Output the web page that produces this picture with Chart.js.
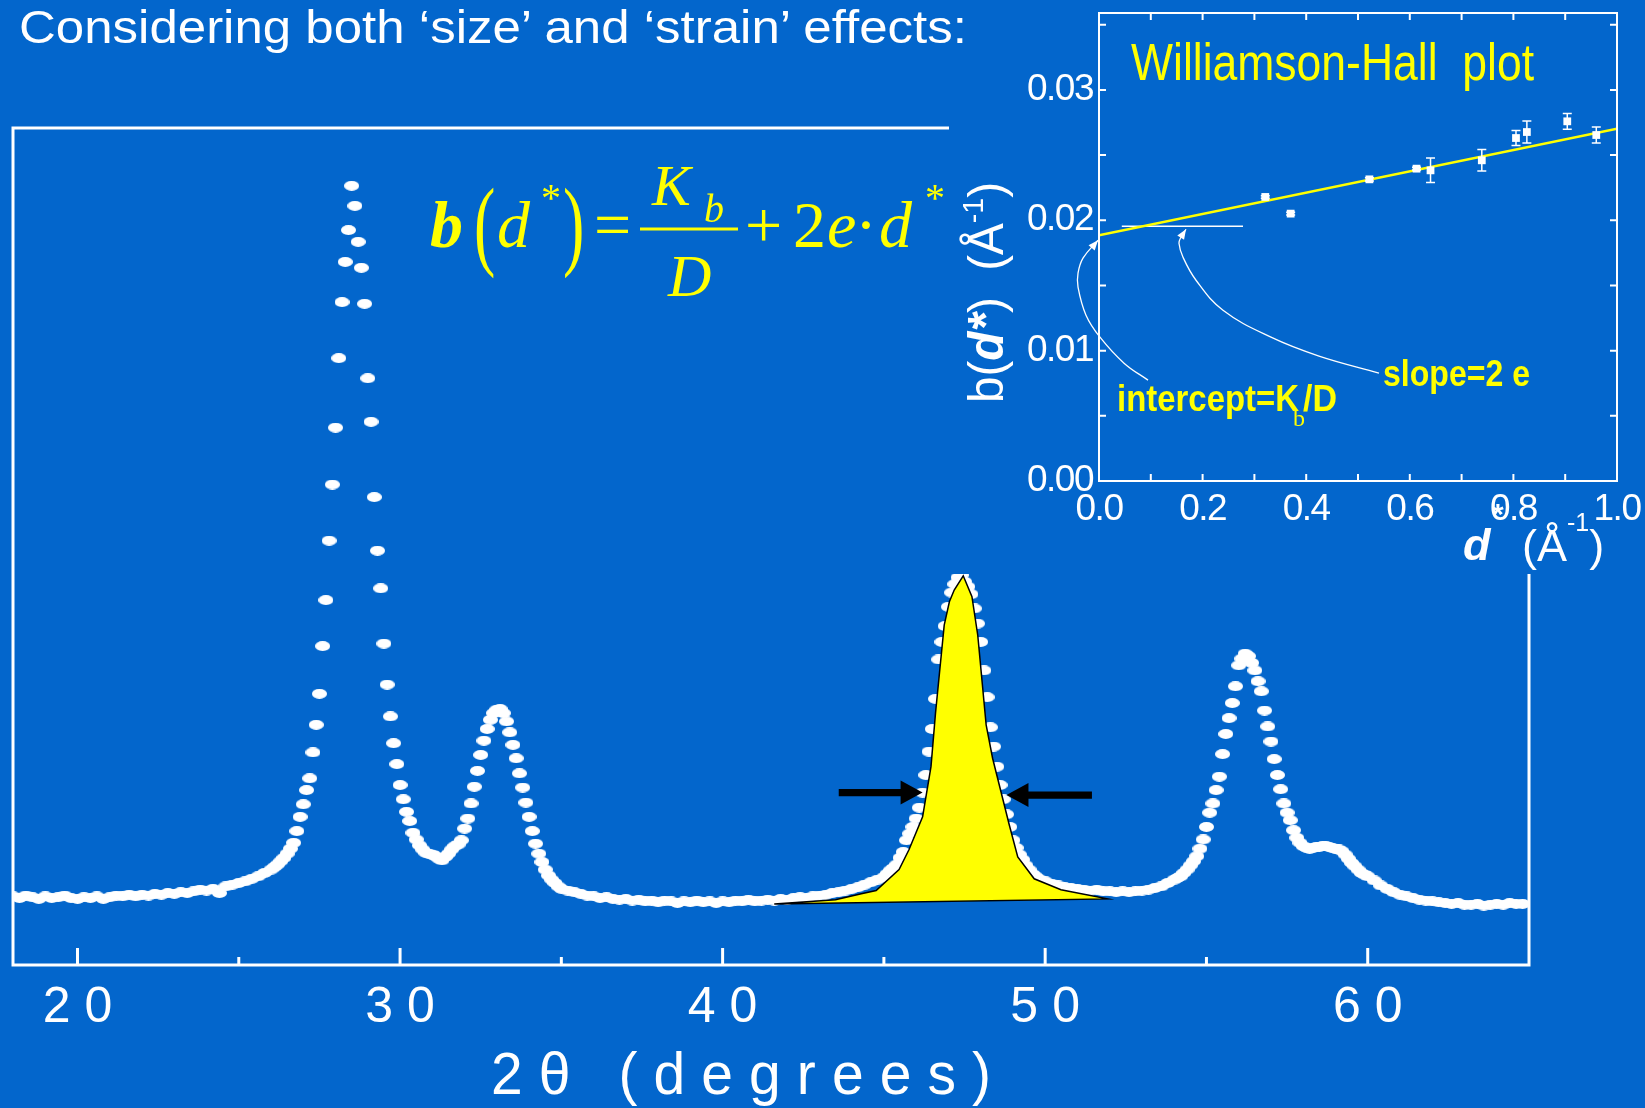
<!DOCTYPE html>
<html>
<head>
<meta charset="utf-8">
<script src="https://cdn.jsdelivr.net/npm/chart.js@4.4.1/dist/chart.umd.min.js"></script>
<style>
  html, body { margin: 0; padding: 0; width: 1645px; height: 1108px; overflow: hidden; background: #0366CC; }
  #main { position: absolute; left: 0; top: 0; width: 1645px; height: 1108px; }
  #inset { position: absolute; left: 949px; top: 0; width: 696px; height: 574px; }
  #title { position: absolute; left: 19px; top: 4px; z-index: 3; color: #FFFFFF; white-space: nowrap;
           font-family: "Liberation Sans", Arial, sans-serif; font-size: 46px; line-height: 46px;
           transform-origin: 0 0; }
</style>
</head>
<body>
<canvas id="main" width="1645" height="1108"></canvas>
<canvas id="inset" width="696" height="574"></canvas>
<div id="title">Considering both ‘size’ and ‘strain’ effects:</div>
<script>
// ---------------- DATA ----------------
// XRD pattern: 2-theta (degrees)
const xrdAngles = [
  18.0,18.2,18.4,18.6,18.8,19.0,19.2,19.4,19.6,19.8,20.0,20.2,20.4,20.6,20.8,21.0,21.2,21.4,21.6,21.8,
  22.0,22.2,22.4,22.6,22.8,23.0,23.2,23.4,23.6,23.8,24.0,24.2,24.4,24.6,24.8,25.0,25.2,25.4,25.6,25.8,
  26.0,26.1,26.2,26.3,26.4,26.5,26.6,
  26.7,26.8,26.9,27.0,27.1,27.2,27.3,27.4,27.5,27.6,27.7,27.8,27.9,28.0,28.1,28.2,28.3,28.4,28.5,28.6,
  28.7,28.8,28.9,29.0,29.1,29.2,29.3,29.4,29.5,29.6,29.7,29.8,29.9,30.0,30.1,30.2,30.3,30.4,
  30.5,30.6,30.7,30.8,30.9,31.0,31.1,31.2,31.3,31.4,31.5,31.6,31.7,31.8,31.9,
  32.0,32.1,32.2,32.3,32.4,32.5,32.6,32.7,32.8,32.9,33.0,33.1,33.2,33.3,33.4,33.5,33.6,33.7,33.8,33.9,
  34.0,34.1,34.2,34.3,34.4,34.5,34.6,34.7,34.8,34.9,35.0,
  35.2,35.4,35.6,35.8,36.0,36.2,36.4,36.6,36.8,37.0,37.2,37.4,37.6,37.8,38.0,38.2,38.4,38.6,38.8,39.0,
  39.2,39.4,39.6,39.8,40.0,40.2,40.4,40.6,40.8,41.0,41.2,41.4,41.6,41.8,42.0,42.2,42.4,42.6,42.8,43.0,
  43.2,43.4,43.6,43.8,44.0,44.2,44.4,44.6,44.8,
  45.0,45.1,45.2,45.3,45.4,45.5,45.6,45.7,45.8,45.9,46.0,46.1,46.2,46.3,46.4,46.5,46.6,46.7,46.8,46.9,
  47.0,47.1,47.2,47.3,47.4,47.5,47.6,47.7,47.8,47.9,48.0,48.1,48.2,48.3,48.4,48.5,48.6,48.7,48.8,48.9,
  49.0,49.1,49.2,49.3,49.4,49.5,49.6,49.7,49.8,
  50.0,50.2,50.4,50.6,50.8,51.0,51.2,51.4,51.6,51.8,52.0,52.2,52.4,52.6,52.8,53.0,53.2,53.4,53.6,53.8,
  54.0,54.1,54.2,54.3,54.4,54.5,54.6,54.7,54.8,54.9,55.0,55.1,55.2,55.3,55.4,55.5,55.6,55.7,55.8,55.9,
  56.0,56.1,56.2,56.3,56.4,56.5,56.6,56.7,56.8,56.9,57.0,57.1,57.2,57.3,57.4,57.5,57.6,57.7,57.8,57.9,
  58.0,58.1,58.2,58.3,58.4,58.5,58.6,58.7,58.8,58.9,59.0,59.1,59.2,59.3,59.4,59.5,59.6,59.7,59.8,59.9,
  60.0,
  60.2,60.4,60.6,60.8,61.0,61.2,61.4,61.6,61.8,62.0,62.2,62.4,62.6,62.8,63.0,63.2,63.4,63.6,63.8,64.0,
  64.2,64.4,64.6,64.8
];
// XRD intensity (arbitrary units, 0-1000 = bottom-top of plot frame)
const xrdIntensity = [
  82,80,83,81,79,82,80,81,83,80,79,81,80,82,79,81,83,82,84,82,
  84,83,85,84,86,85,87,86,88,90,89,91,86,94,96,98,100,103,106,110,
  114,117,120,124,128,133,139,
  146,160,177,192,209,223,254,287,324,381,436,507,574,642,725,792,840,878,931,907,
  864,833,790,701,649,559,495,450,384,335,297,265,240,215,198,183,172,158,
  150,143,138,134,133,132,130,127,125,129,133,138,142,144,149,
  163,175,193,213,232,251,268,282,293,301,305,306,301,291,278,263,247,229,212,194,
  177,160,145,133,123,114,107,102,98,94,91,
  89,87,85,83,82,80,81,79,78,79,77,78,76,77,75,77,76,74,76,75,
  77,75,76,74,76,75,77,76,78,76,77,78,77,79,78,80,81,80,82,83,
  84,86,87,89,91,93,96,99,102,
  105,109,113,116,120,128,135,149,157,165,175,188,206,227,255,282,318,365,386,405,
  428,445,455,463,466,458,452,443,426,408,386,352,320,284,261,237,215,198,180,165,
  149,140,132,126,119,114,109,106,103,
  100,97,95,93,92,91,90,89,90,88,88,87,88,87,88,89,90,92,94,98,
  102,104,106,110,114,119,124,130,139,150,165,182,193,209,225,252,276,295,313,333,
  358,366,372,369,361,352,339,327,304,285,267,246,227,210,193,182,173,161,152,146,
  142,140,139,140,141,141,142,142,141,140,139,138,136,132,127,122,118,114,110,108,
  106,
  101,95,91,87,84,82,80,78,77,76,75,74,73,74,72,72,73,71,72,73,
  72,74,73,73
];
// Highlighted (yellow) peak outline
const peakFillAngles  = [41.6, 43.5, 44.3, 44.76, 45.47, 45.78, 46.2, 46.46, 46.6, 46.87, 47.03, 47.18, 47.46, 47.73, 47.91, 48.17, 48.37, 48.89, 49.15, 49.66, 50.49, 51.93, 41.6];
const peakFillHeights = [73, 78, 85, 89, 114, 138, 177, 237, 301, 406, 434, 448, 465, 440, 394, 287, 247, 167, 129, 103, 90, 79, 73];
// FWHM arrows (tail angle, tip angle, level)
const fwhmTail  = [43.6, 51.45];
const fwhmTip   = [46.2, 48.8];
const fwhmLevel = [206, 203];
// main x-axis tick labels
const mainTickLabels = ['20', '30', '40', '50', '60'];

// Williamson-Hall inset
const whDstar   = [0.321, 0.370, 0.522, 0.613, 0.640, 0.739, 0.805, 0.826, 0.904, 0.960];
const whBreadth = [0.02179, 0.02051, 0.02314, 0.02396, 0.02383, 0.02460, 0.02631, 0.02677, 0.02759, 0.02654];
const whError   = [0.00010, 0.00010, 0.00012, 0.00010, 0.00094, 0.00082, 0.00057, 0.00084, 0.00060, 0.00061];
const fitDstar   = [0, 1];
const fitBreadth = [0.01885, 0.02703];
const guideDstar   = [0.044, 0.278];
const guideBreadth = [0.01954, 0.01954];
const interceptCurveD = [0.0946, 0.0483, 0.0019, -0.0251, -0.0405, -0.0405, -0.0309, -0.0019];
const interceptCurveB = [0.00774, 0.00904, 0.01103, 0.01272, 0.01487, 0.01594, 0.01709, 0.01847];
const slopeCurveD = [0.5405, 0.4247, 0.3320, 0.2394, 0.1873, 0.1622, 0.1544, 0.1583, 0.1680];
const slopeCurveB = [0.00828, 0.00958, 0.01103, 0.01310, 0.01540, 0.01716, 0.01824, 0.01870, 0.01931];
const insetXLabels = ['0.0', '0.2', '0.4', '0.6', '0.8', '1.0'];
const insetYLabels = ['0.00', '0.01', '0.02', '0.03'];

// ---------------- STYLE HELPERS ----------------
const BLUE = '#0366CC', WHITE = '#FFFFFF', YELLOW = '#FFFF00';
const SANS = '"Liberation Sans", Arial, sans-serif';
const SERIF = '"Liberation Serif", "Times New Roman", serif';
Chart.defaults.font.family = SANS;
Chart.defaults.color = WHITE;

// fit the HTML page title to its width
(function () {
  const el = document.getElementById('title');
  const w = el.scrollWidth;
  el.style.transform = 'scaleX(' + (948 / w).toFixed(4) + ')';
})();

function zip(xs, ys) { return xs.map((x, i) => ({ x: x, y: ys[i] })); }

function makeDot(w, h) {
  const c = document.createElement('canvas');
  c.width = w; c.height = h;
  const g = c.getContext('2d');
  g.fillStyle = WHITE;
  g.beginPath();
  g.ellipse(w / 2, h / 2, w / 2, h / 2, 0, 0, Math.PI * 2);
  g.fill();
  return c;
}

// draw a sequence of text runs, optionally fitted to a width and rotated
function drawRuns(ctx, runs, x, y, width, color, rot) {
  ctx.save();
  ctx.letterSpacing = '0px';
  ctx.translate(x, y);
  if (rot) ctx.rotate(rot);
  let total = 0;
  runs.forEach(r => { ctx.font = r.font; r.w = ctx.measureText(r.text).width; total += r.w; });
  const sx = width ? width / total : 1;
  ctx.scale(sx, 1);
  ctx.textAlign = 'left';
  ctx.textBaseline = 'alphabetic';
  let cx = 0;
  runs.forEach(r => {
    ctx.font = r.font;
    ctx.fillStyle = r.color || color;
    ctx.fillText(r.text, cx, r.dy || 0);
    cx += r.w;
  });
  ctx.restore();
}

// text stretched to a width by letter spacing with a horizontal squeeze
function drawSpaced(ctx, text, x, y, width, font, sx, color) {
  ctx.save();
  ctx.letterSpacing = '0px';
  ctx.font = font;
  const w0 = ctx.measureText(text).width;
  const n = [...text].length;
  const sp = (width / sx - w0) / (n - 1);
  ctx.translate(x, y);
  ctx.scale(sx, 1);
  ctx.letterSpacing = sp.toFixed(2) + 'px';
  ctx.fillStyle = color;
  ctx.textAlign = 'left';
  ctx.textBaseline = 'alphabetic';
  ctx.fillText(text, 0, 0);
  ctx.restore();
}

// ---------------- MAIN CHART ----------------
// sy: vertical stretch (for the tall thin brackets)
const formulaGlyphs = [
  { t: 'b', f: 'italic bold 66px ' + SERIF, x: 430, y: 247 },
  { t: '(', f: '64px ' + SERIF, x: 474, y: 257, sy: 1.55 },
  { t: 'd', f: 'italic 66px ' + SERIF, x: 497, y: 247 },
  { t: '*', f: '40px ' + SERIF, x: 541, y: 211 },
  { t: ')', f: '64px ' + SERIF, x: 563, y: 257, sy: 1.55 },
  { t: '=', f: '66px ' + SERIF, x: 594, y: 247 },
  { t: 'K', f: 'italic 58px ' + SERIF, x: 652, y: 205 },
  { t: 'b', f: 'italic 40px ' + SERIF, x: 704, y: 222 },
  { t: 'D', f: 'italic 60px ' + SERIF, x: 668, y: 296 },
  { t: '+', f: '66px ' + SERIF, x: 745, y: 247 },
  { t: '2', f: '66px ' + SERIF, x: 793, y: 247 },
  { t: 'e', f: 'italic 66px ' + SERIF, x: 827, y: 247 },
  { t: '·', f: '66px ' + SERIF, x: 855, y: 247 },
  { t: 'd', f: 'italic 66px ' + SERIF, x: 879, y: 247 },
  { t: '*', f: '40px ' + SERIF, x: 925, y: 211 }
];

const mainDecor = {
  id: 'mainDecor',
  beforeDraw(chart) { chart.ctx.letterSpacing = '14px'; },
  afterDraw(chart) {
    const ctx = chart.ctx;
    const { left, right, top, bottom } = chart.chartArea;
    const xs = chart.scales.x, ys = chart.scales.y;
    ctx.save();
    ctx.letterSpacing = '0px';
    // frame
    ctx.strokeStyle = WHITE;
    ctx.lineWidth = 3;
    ctx.strokeRect(left, top, right - left, bottom - top);
    // inward ticks on bottom axis
    xs.ticks.forEach(t => {
      if (t.value <= xs.min || t.value >= xs.max) return;
      const px = xs.getPixelForValue(t.value);
      const len = mainTickLabels.includes(String(t.value)) ? 17 : 8;
      ctx.beginPath();
      ctx.moveTo(px, bottom);
      ctx.lineTo(px, bottom - len);
      ctx.stroke();
    });
    // FWHM arrows
    ctx.fillStyle = '#000';
    for (let i = 0; i < fwhmTail.length; i++) {
      const y = ys.getPixelForValue(fwhmLevel[i]);
      const x0 = xs.getPixelForValue(fwhmTail[i]);
      const x1 = xs.getPixelForValue(fwhmTip[i]);
      const d = Math.sign(x1 - x0), hl = 22, hh = 12, sh = 3.7;
      ctx.beginPath();
      ctx.moveTo(x0, y - sh);
      ctx.lineTo(x1 - d * hl, y - sh);
      ctx.lineTo(x1 - d * hl, y - hh);
      ctx.lineTo(x1, y);
      ctx.lineTo(x1 - d * hl, y + hh);
      ctx.lineTo(x1 - d * hl, y + sh);
      ctx.lineTo(x0, y + sh);
      ctx.closePath();
      ctx.fill();
    }
    // x-axis title
    drawSpaced(ctx, '2\u03B8 (degrees)', 491, 1094, 500, '60px ' + SANS, 0.95, WHITE);
    // formula
    ctx.fillStyle = YELLOW;
    ctx.textAlign = 'left';
    ctx.textBaseline = 'alphabetic';
    formulaGlyphs.forEach(g => {
      ctx.save();
      ctx.font = g.f;
      ctx.translate(g.x, g.y);
      if (g.sy) ctx.scale(1, g.sy);
      ctx.fillText(g.t, 0, 0);
      ctx.restore();
    });
    ctx.strokeStyle = YELLOW;
    ctx.lineWidth = 3;
    ctx.beginPath();
    ctx.moveTo(640, 229);
    ctx.lineTo(738, 229);
    ctx.stroke();
    ctx.restore();
  }
};

const dotSprite = makeDot(15, 10);

new Chart(document.getElementById('main'), {
  type: 'line',
  data: {
    datasets: [
      {
        label: 'Analysed peak',
        data: zip(peakFillAngles, peakFillHeights),
        fill: 'shape',
        backgroundColor: YELLOW,
        borderColor: '#000000',
        borderWidth: 1.5,
        pointRadius: 0,
        tension: 0,
        order: 0
      },
      {
        label: 'XRD pattern',
        data: zip(xrdAngles, xrdIntensity),
        showLine: false,
        pointStyle: dotSprite,
        pointRadius: 7,
        order: 1
      }
    ]
  },
  options: {
    responsive: false,
    animation: false,
    devicePixelRatio: 1,
    events: [],
    layout: { padding: { left: 13, top: 128, right: 116, bottom: 0 } },
    plugins: { legend: { display: false }, tooltip: { enabled: false } },
    scales: {
      x: {
        type: 'linear', position: 'bottom', min: 18, max: 65,
        afterFit(s) { s.height = 143; s.paddingLeft = 0; s.paddingRight = 0; },
        grid: { display: false, drawTicks: false },
        border: { display: false },
        ticks: {
          stepSize: 5, autoSkip: false, includeBounds: false, maxRotation: 0,
          padding: 13, labelOffset: 7, color: WHITE, font: { size: 50 },
          callback: v => mainTickLabels.includes(String(v)) ? String(v) : ''
        }
      },
      y: { display: false, min: 0, max: 1000 }
    }
  },
  plugins: [mainDecor]
});

// ---------------- INSET CHART ----------------
function labelFor(list, v) {
  const hit = list.find(l => Math.abs(parseFloat(l) - v) < 1e-9);
  return hit || '';
}

const insetDecor = {
  id: 'insetDecor',
  beforeDraw(chart) {
    const ctx = chart.ctx;
    ctx.save();
    ctx.fillStyle = BLUE;
    ctx.fillRect(0, 0, chart.width, chart.height);
    ctx.restore();
    ctx.letterSpacing = '-1.5px';
  },
  afterDatasetsDraw(chart) {
    const ctx = chart.ctx;
    const xs = chart.scales.x, ys = chart.scales.y;
    ctx.save();
    ctx.strokeStyle = WHITE;
    ctx.lineWidth = 1.5;
    for (let i = 0; i < whDstar.length; i++) {
      const px = xs.getPixelForValue(whDstar[i]);
      const y1 = ys.getPixelForValue(whBreadth[i] + whError[i]);
      const y2 = ys.getPixelForValue(whBreadth[i] - whError[i]);
      ctx.beginPath();
      ctx.moveTo(px, y1); ctx.lineTo(px, y2);
      ctx.moveTo(px - 4.5, y1); ctx.lineTo(px + 4.5, y1);
      ctx.moveTo(px - 4.5, y2); ctx.lineTo(px + 4.5, y2);
      ctx.stroke();
    }
    // arrowheads on the two annotation curves
    ctx.fillStyle = WHITE;
    [2, 3].forEach(di => {
      const pts = chart.getDatasetMeta(di).data;
      const p = pts[pts.length - 1];
      let qx = p.cp1x, qy = p.cp1y;
      if (qx === undefined || (Math.abs(qx - p.x) < 0.5 && Math.abs(qy - p.y) < 0.5)) {
        qx = pts[pts.length - 2].x; qy = pts[pts.length - 2].y;
      }
      const a = Math.atan2(p.y - qy, p.x - qx);
      ctx.save();
      ctx.translate(p.x, p.y);
      ctx.rotate(a);
      ctx.beginPath();
      ctx.moveTo(0, 0);
      ctx.lineTo(-10, -4);
      ctx.lineTo(-10, 4);
      ctx.closePath();
      ctx.fill();
      ctx.restore();
    });
    ctx.restore();
  },
  afterDraw(chart) {
    const ctx = chart.ctx;
    const { left, right, top, bottom } = chart.chartArea;
    const xs = chart.scales.x, ys = chart.scales.y;
    ctx.save();
    ctx.letterSpacing = '0px';
    ctx.strokeStyle = WHITE;
    ctx.lineWidth = 2;
    ctx.strokeRect(left, top, right - left, bottom - top);
    const tl = 7;
    ctx.beginPath();
    xs.ticks.forEach(t => {
      const px = xs.getPixelForValue(t.value);
      if (px <= left + 1 || px >= right - 1) return;
      ctx.moveTo(px, bottom); ctx.lineTo(px, bottom - tl);
      ctx.moveTo(px, top); ctx.lineTo(px, top + tl);
    });
    ys.ticks.forEach(t => {
      const py = ys.getPixelForValue(t.value);
      if (py >= bottom - 1 || py <= top + 1) return;
      ctx.moveTo(left, py); ctx.lineTo(left + tl, py);
      ctx.moveTo(right, py); ctx.lineTo(right - tl, py);
    });
    ctx.stroke();

    // inset title
    drawRuns(ctx, [{ text: 'Williamson-Hall  plot', font: '52px ' + SANS }], 182, 80, 403, YELLOW);
    // annotations
    drawRuns(ctx, [{ text: 'intercept=K', font: 'bold 36px ' + SANS }], 168, 411, 182, YELLOW);
    drawRuns(ctx, [{ text: 'b', font: '24px ' + SERIF }], 344, 426, 0, YELLOW);
    drawRuns(ctx, [{ text: '/D', font: 'bold 36px ' + SANS }], 354, 411, 34, YELLOW);
    drawRuns(ctx, [{ text: 'slope=2 e', font: 'bold 36px ' + SANS }], 434, 386, 147, YELLOW);
    // y-axis title (rotated)
    drawRuns(ctx, [
      { text: 'b(', font: '50px ' + SANS },
      { text: 'd*', font: 'italic bold 50px ' + SANS },
      { text: ')  (\u00C5', font: '50px ' + SANS },
      { text: '-1', font: '30px ' + SANS, dy: -20 },
      { text: ')', font: '50px ' + SANS }
    ], 54, 403, 221, WHITE, -Math.PI / 2);
    // x-axis title
    drawRuns(ctx, [{ text: 'd', font: 'italic bold 45px ' + SANS }], 514, 560, 0, WHITE);
    drawRuns(ctx, [{ text: '*', font: 'bold 30px ' + SANS }], 543, 524, 0, WHITE);
    drawRuns(ctx, [
      { text: '(\u00C5', font: '45px ' + SANS },
      { text: '-1', font: '25px ' + SANS, dy: -30 },
      { text: ')', font: '45px ' + SANS }
    ], 573, 561, 0, WHITE);
    ctx.restore();
  }
};

new Chart(document.getElementById('inset'), {
  type: 'line',
  data: {
    datasets: [
      { label: 'Linear fit', data: zip(fitDstar, fitBreadth), borderColor: YELLOW, borderWidth: 2.5, pointRadius: 0, fill: false, order: 2 },
      { label: 'Intercept guide', data: zip(guideDstar, guideBreadth), borderColor: WHITE, borderWidth: 1.3, pointRadius: 0, fill: false, order: 3 },
      { label: 'Intercept pointer', data: zip(interceptCurveD, interceptCurveB), borderColor: WHITE, borderWidth: 1.3, pointRadius: 0, fill: false, tension: 0.4, capBezierPoints: false, clip: false, order: 3 },
      { label: 'Slope pointer', data: zip(slopeCurveD, slopeCurveB), borderColor: WHITE, borderWidth: 1.3, pointRadius: 0, fill: false, tension: 0.4, capBezierPoints: false, clip: false, order: 3 },
      { label: 'b(d*)', data: zip(whDstar, whBreadth), showLine: false, pointStyle: 'rect', pointRadius: 5.5, backgroundColor: WHITE, borderColor: WHITE, borderWidth: 0, order: 0 }
    ]
  },
  options: {
    responsive: false,
    animation: false,
    devicePixelRatio: 1,
    events: [],
    layout: { padding: { left: 0, top: 13, right: 28, bottom: 0 } },
    plugins: { legend: { display: false }, tooltip: { enabled: false } },
    scales: {
      x: {
        type: 'linear', min: 0, max: 1,
        afterFit(s) { s.height = 93; s.paddingLeft = 0; s.paddingRight = 0; },
        grid: { display: false, drawTicks: false },
        border: { display: false },
        ticks: { stepSize: 0.1, autoSkip: false, maxRotation: 0, padding: 7, color: WHITE, font: { size: 37 },
          callback: v => labelFor(insetXLabels, v) }
      },
      y: {
        type: 'linear', min: 0, max: 0.0359,
        afterFit(s) { s.width = 150; s.paddingTop = 0; s.paddingBottom = 0; },
        grid: { display: false, drawTicks: false },
        border: { display: false },
        ticks: { stepSize: 0.005, autoSkip: false, includeBounds: false, padding: 6, color: WHITE, font: { size: 37 },
          callback: v => labelFor(insetYLabels, v) }
      }
    }
  },
  plugins: [insetDecor]
});
</script>
</body>
</html>
